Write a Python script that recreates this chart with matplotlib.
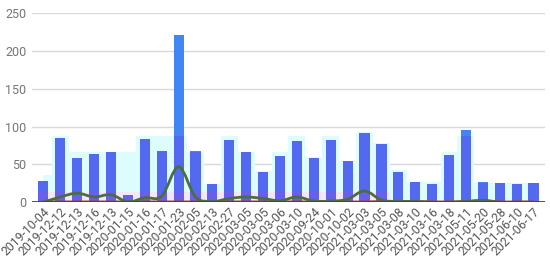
import numpy as np
import matplotlib.pyplot as plt
from matplotlib.path import Path
from matplotlib.patches import PathPatch

plt.rcParams['font.family'] = ['Roboto', 'DejaVu Sans']

dates = ['2019-10-04', '2019-12-12', '2019-12-13', '2019-12-16', '2019-12-13',
         '2020-01-15', '2020-01-16', '2020-01-17', '2020-01-23', '2020-02-05',
         '2020-02-13', '2020-02-27', '2020-03-05', '2020-03-05', '2020-03-06',
         '2020-03-10', '2020-09-24', '2020-10-01', '2020-10-02', '2021-03-03',
         '2021-03-05', '2021-03-08', '2021-03-10', '2021-03-16', '2021-03-18',
         '2021-05-11', '2021-05-20', '2021-05-28', '2021-06-10', '2021-06-17']
counts = [28, 85, 59, 64, 66, 10, 84, 68, 222, 68,
          24, 83, 66, 40, 61, 81, 58, 83, 55, 92,
          77, 40, 27, 24, 63, 95, 27, 26, 24, 25]
step_vals = [36, 88, 66, 66, 66, 66, 88, 88, 88, 66,
             24, 88, 66, 42, 66, 88, 60, 88, 55, 93,
             78, 43, 27, 27, 66, 88, 25, 25, 25, 25]
low_vals = [14, 14, 14, 14, 14, 14, 14, 14, 14, 14,
            14, 14, 14, 14, 14, 14, 14, 14, 14, 14,
            14, 3, 3, 3, 3, 3, 3, 3, 3, 3]
green_vals = [0, 7, 12, 7, 10, 0.5, 6, 8, 47, 7,
              1, 5, 7, 5, 2, 7, 1.5, 1.5, 4, 15,
              3, 1, 1, 0, 0, 1, 2, 0, 0, 0]
red_vals = [1, 1, 1, 1, 1, 1, 1, 1, 1, 1,
            1, 1, 1, 1, 1, 1, 1, 1, 1, 1,
            1.5, 1.5, 1.5, 1, 1, 1.5, 3, 1, 1, 1]


def smooth(ax, xs, ys, color, lw):
    # catmull-rom style bezier through the points
    verts = [(xs[0], ys[0])]
    codes = [Path.MOVETO]
    n = len(xs)
    for i in range(n - 1):
        p0 = np.array([xs[max(i - 1, 0)], ys[max(i - 1, 0)]])
        p1 = np.array([xs[i], ys[i]])
        p2 = np.array([xs[i + 1], ys[i + 1]])
        p3 = np.array([xs[min(i + 2, n - 1)], ys[min(i + 2, n - 1)]])
        c1 = p1 + (p2 - p0) / 6
        c2 = p2 - (p3 - p1) / 6
        verts += [tuple(c1), tuple(c2), tuple(p2)]
        codes += [Path.CURVE4] * 3
    ax.add_patch(PathPatch(Path(verts, codes), fill=False, ec=color, lw=lw,
                           zorder=5, capstyle='round', joinstyle='round'))


x = np.arange(len(dates))

fig = plt.figure(figsize=(5.5, 2.62), dpi=100)
ax = fig.add_axes([0.058, 0.228, 0.933, 0.721])

ax.fill_between(x, 0, step_vals, step='mid', color='#dcfcfd', lw=0, zorder=1)
ax.fill_between(x, 0, low_vals, step='mid', color='#f3e8f8', lw=0, zorder=1.5)

ax.bar(x, counts, width=0.6, color='#4285f4', zorder=2)
ax.bar(x, np.minimum(counts, step_vals), width=0.6, color='#5269f0', zorder=2.1)
ax.bar(x, np.minimum(counts, low_vals), width=0.6, color='#6660ea', zorder=2.2)

smooth(ax, x, red_vals, '#a2412f', 1.4)
smooth(ax, x, green_vals, '#4b6e3f', 2.0)

ax.axhline(0, color='#444444', lw=1.3, zorder=6)

ax.set_xlim(-0.68, len(dates) - 1 + 0.68)
ax.set_ylim(0, 250)
ax.set_yticks([0, 50, 100, 150, 200, 250])
ax.grid(axis='y', color='#d9d9d9', lw=1, zorder=0)
ax.set_axisbelow(True)
for s in ax.spines.values():
    s.set_visible(False)

ax.tick_params(axis='y', length=0, pad=4, labelsize=9, labelcolor='#757575')
ax.tick_params(axis='x', length=0, pad=2, labelsize=8.8, labelcolor='#555555')
ax.set_xticks(x)
ax.set_xticklabels(dates, rotation=45, ha='right', va='top',
                   rotation_mode='anchor')

fig.savefig('out.png', dpi=100)
